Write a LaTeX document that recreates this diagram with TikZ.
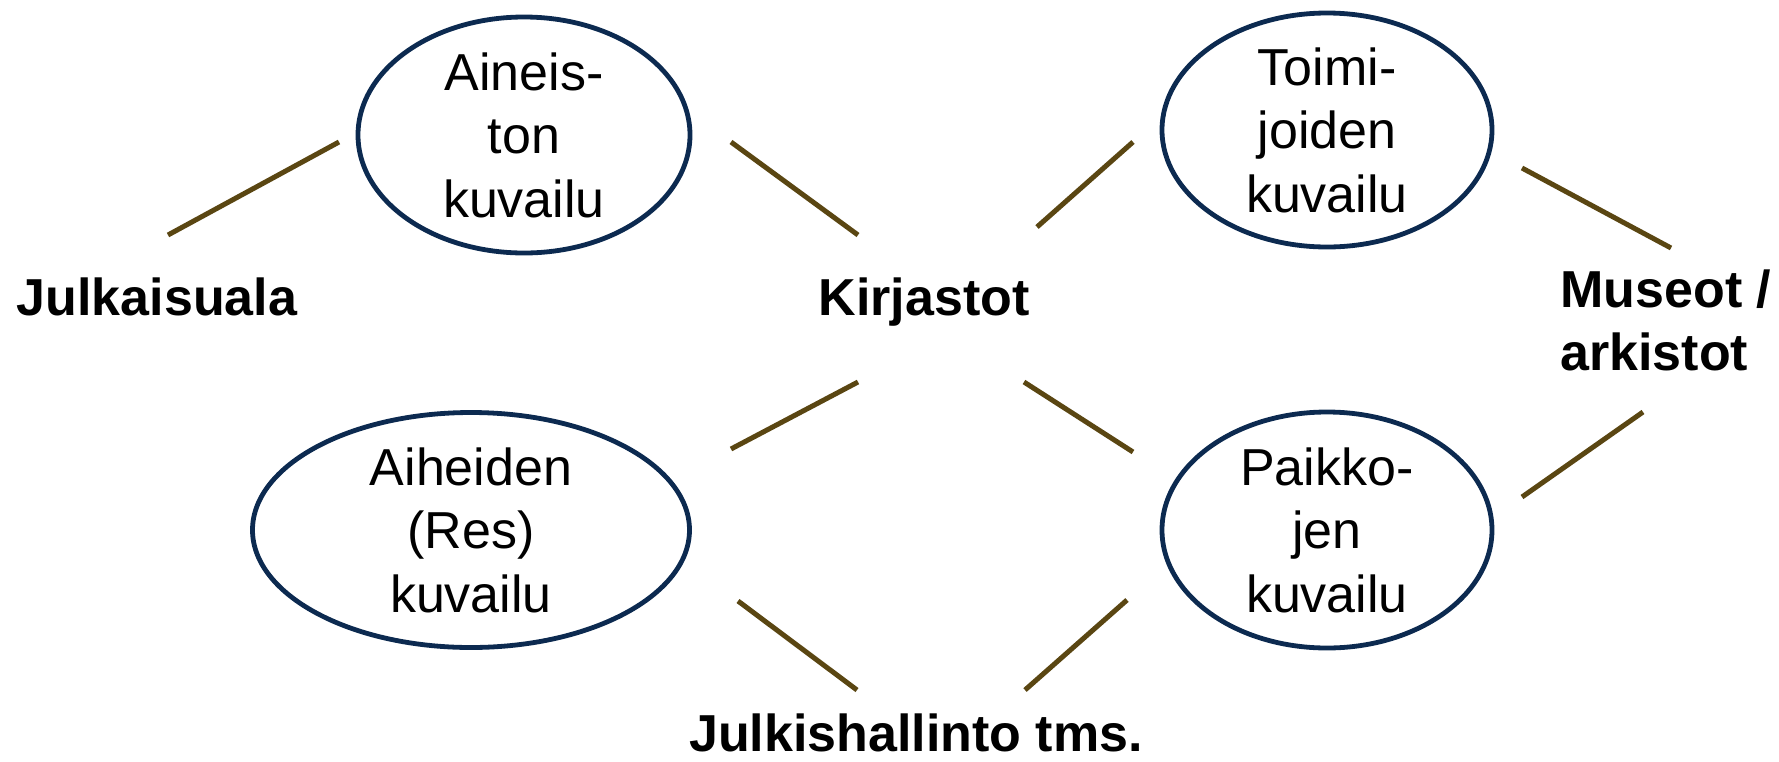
\documentclass[tikz,border=0pt]{standalone}
\usepackage{fontspec}
\setmainfont{Liberation Sans}
\usetikzlibrary{shapes.geometric}
\definecolor{navy}{HTML}{0C2A50}
\definecolor{olivebrown}{HTML}{5A4612}
\begin{document}
\begin{tikzpicture}[x=0.5pt,y=-0.5pt,
  topic/.style={ellipse, draw=navy, line width=2.4pt, inner sep=0pt},
  topictext/.style={align=center, inner sep=0pt, font=\fontsize{26}{31.75}\selectfont},
  group/.style={inner sep=0pt, font=\bfseries\fontsize{26}{31.75}\selectfont},
  link/.style={draw=olivebrown, line width=2.5pt}]
\useasboundingbox (0,0) rectangle (1779,761);
% ellipses
\node[topic, minimum width=166pt, minimum height=118pt] (ain) at (524,135) {};
\node[topic, minimum width=165pt, minimum height=117pt] (toi) at (1327,130) {};
\node[topic, minimum width=218.5pt, minimum height=117.5pt] (aih) at (471,530) {};
\node[topic, minimum width=165pt, minimum height=118pt] (pai) at (1327,530) {};
\node[topictext] (aint) at (ain.center) {Aineis-\\ton\\kuvailu};
\node[topictext] (toit) at (toi.center) {Toimi-\\joiden\\kuvailu};
\node[topictext] (aiht) at (aih.center) {Aiheiden\\(Res)\\kuvailu};
\node[topictext] (pait) at (pai.center) {Paikko-\\jen\\kuvailu};
% group labels
\node[group, anchor=base] (jul) at (157,315) {Julkaisuala};
\node[group, anchor=base] (kir) at (924,315) {Kirjastot};
\node[group, anchor=north west, align=left] (mus) at (1560,269) {Museot /\\arkistot};
\node[group, anchor=base] (jhl) at (916,751) {Julkishallinto tms.};
% connector ends
\coordinate (c1a) at (168,235);  \coordinate (c1b) at (339,142);
\coordinate (c2a) at (731,142);  \coordinate (c2b) at (858,235);
\coordinate (c3a) at (1037,227); \coordinate (c3b) at (1133,142);
\coordinate (c4a) at (1522,168); \coordinate (c4b) at (1671,248);
\coordinate (c5a) at (858,382);  \coordinate (c5b) at (731,449);
\coordinate (c6a) at (738,601);  \coordinate (c6b) at (857,690);
\coordinate (c7a) at (1024,382); \coordinate (c7b) at (1133,452);
\coordinate (c8a) at (1127,600); \coordinate (c8b) at (1025,690);
\coordinate (c9a) at (1522,497); \coordinate (c9b) at (1643,412);
\foreach \i in {1,...,9} {\draw[link] (c\i a) -- (c\i b);}
\end{tikzpicture}
\end{document}
